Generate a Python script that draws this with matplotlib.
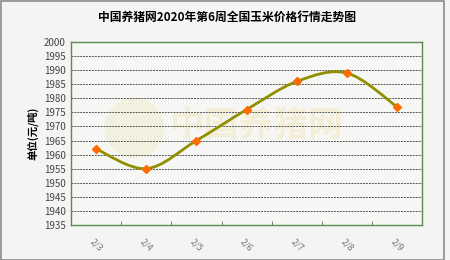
import numpy as np
import matplotlib
matplotlib.use("Agg")
import matplotlib.pyplot as plt
from matplotlib.path import Path
from matplotlib.patches import PathPatch, Rectangle, Ellipse

plt.rcParams['font.family'] = ['Noto Sans CJK SC', 'DejaVu Sans']

# 数据
dates = ['2/3', '2/4', '2/5', '2/6', '2/7', '2/8', '2/9']
prices = [1962, 1955, 1965, 1976, 1986, 1989, 1977]
y_ticks = list(range(1935, 2001, 5))

title = '中国养猪网2020年第6周全国玉米价格行情走势图'
y_label = '单位(元/吨)'

fig = plt.figure(figsize=(4.5, 2.6), dpi=100)
fig.patch.set_facecolor('#f4f5f2')
fig.patches.append(Rectangle((0.003, 0.0), 0.984, 0.995, transform=fig.transFigure,
                             fill=False, edgecolor='#8c8c8c', linewidth=1.2))

ax = fig.add_axes([0.158, 0.135, 0.78, 0.703])
ax.set_facecolor('#f6f7f4')

x = np.arange(len(dates))
y = np.array(prices, dtype=float)

# 平滑曲线 (Catmull-Rom -> Bezier)
px = np.concatenate([[x[0]], x, [x[-1]]])
py = np.concatenate([[y[0]], y, [y[-1]]])
verts = [(x[0], y[0])]
codes = [Path.MOVETO]
for i in range(1, len(px) - 2):
    c1 = (px[i] + (px[i + 1] - px[i - 1]) / 6, py[i] + (py[i + 1] - py[i - 1]) / 6)
    c2 = (px[i + 1] - (px[i + 2] - px[i]) / 6, py[i + 1] - (py[i + 2] - py[i]) / 6)
    verts += [c1, c2, (px[i + 1], py[i + 1])]
    codes += [Path.CURVE4] * 3
ax.add_patch(PathPatch(Path(verts, codes), facecolor='none', edgecolor='#8f8f00',
                       linewidth=2, zorder=3))
ax.plot(x, y, linestyle='none', marker='D', markersize=4.5, color='#ff6a00', zorder=4)

# 水印
ax.text(0.53, 0.54, '中国养猪网', transform=ax.transAxes, fontsize=25, fontweight='bold',
        color='#f3e6c0', alpha=0.55, ha='center', va='center', zorder=1)
ax.add_patch(Ellipse((0.18, 0.53), 0.17, 0.33, transform=ax.transAxes, facecolor='#f0edcf',
                     edgecolor='none', alpha=0.55, zorder=1))

ax.set_xlim(-0.5, len(dates) - 0.5)
ax.set_ylim(1935, 2000)
ax.set_yticks(y_ticks)
ax.set_xticks(x)
ax.set_xticklabels(dates, rotation=-45, ha='center', va='top', fontsize=6.5, color='#777777')
ax.set_xticks(np.arange(0.5, len(dates) - 1, 1), minor=True)
ax.tick_params(axis='x', which='major', length=0, pad=9)
ax.tick_params(axis='x', which='minor', direction='in', length=3, color='#4f7f45')
ax.tick_params(axis='y', length=0, labelsize=7, labelcolor='#444444', pad=4)

for v in y_ticks[1:-1]:
    ax.axhline(v, color='#555555', linestyle=(0, (2, 1)), linewidth=0.7, zorder=2)

for s in ax.spines.values():
    s.set_color('#5a8a50')
    s.set_linewidth(1)

ax.set_ylabel(y_label, fontsize=7.5, fontweight='bold', labelpad=4)
fig.text(0.505, 0.935, title, ha='center', va='center', fontsize=8.5, fontweight='bold')

fig.savefig('out.png', dpi=100, facecolor=fig.get_facecolor())
